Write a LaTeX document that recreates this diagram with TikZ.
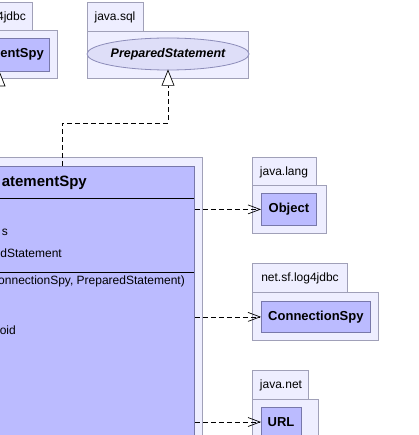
\documentclass[tikz,border=0pt]{standalone}
\usepackage{fontspec}
\setmainfont{Liberation Sans}
\usetikzlibrary{arrows.meta,shapes.geometric}

\definecolor{pkgfill}{RGB}{238,238,255}
\definecolor{pkgline}{RGB}{160,160,184}
\definecolor{clsfill}{RGB}{187,187,255}
\definecolor{clsline}{RGB}{120,120,170}
\definecolor{ifcfill}{RGB}{222,222,248}
\definecolor{ifcline}{RGB}{140,140,185}

\tikzset{
  pkgbox/.style={draw=pkgline, fill=pkgfill, line width=0.8pt},
  clsbox/.style={draw=clsline, fill=clsfill, line width=0.8pt},
  pkglabel/.style={font=\fontsize{12}{14}\selectfont, inner sep=0pt},
  clsname/.style={font=\fontsize{13}{15}\selectfont\bfseries, inner sep=0pt},
  member/.style={font=\fontsize{12}{14}\selectfont, inner sep=0pt, anchor=east},
  depend/.style={dash pattern=on 5pt off 3pt, line width=0.7pt,
    -{Straight Barb[length=12pt,width=9pt,line width=0.7pt]}},
  realize/.style={dash pattern=on 5pt off 3pt, line width=0.7pt},
  gentri/.style={draw, fill=white, line width=0.7pt}
}

\begin{document}
\begin{tikzpicture}[x=1pt,y=-1pt]
\useasboundingbox (0,0) rectangle (418,435);
\clip (0,0) rectangle (418,435);

% package net.sf.log4jdbc holding the parent class (upper left)
\draw[pkgbox] (-10,2) rectangle (32,30);
\draw[pkgbox] (-10,30) rectangle (57,78);
\node[pkglabel, anchor=east] (tlpkg) at (26,17) {4jdbc};
\draw[clsbox] (-10,38) rectangle (49,71);
\node[clsname, anchor=east] (parent) at (44,54) {entSpy};
\draw[gentri] (-1,71) -- (5,86) -- (-7,86) -- cycle;

% package java.sql with the interface
\draw[pkgbox] (87,2) rectangle (143,31);
\draw[pkgbox] (87,31) rectangle (248,78);
\node[pkglabel] (sqlpkg) at (115,17) {java.sql};
\node[ellipse, draw=ifcline, fill=ifcfill, line width=0.8pt,
      minimum width=146pt, minimum height=32pt, inner sep=0pt,
      font=\fontsize{12.5}{15}\selectfont\bfseries\itshape] (ifc) at (168,54)
      {PreparedStatement};

% the main class
\draw[pkgbox] (-10,157) rectangle (202,445);
\node[clsbox, rectangle, minimum width=204pt, minimum height=279pt,
      inner sep=0pt, anchor=north west] (main) at (-10,166) {};
\draw[line width=0.8pt] (-10,198) -- (194,198);
\draw[line width=0.8pt] (-10,272) -- (194,272);
\node[font=\fontsize{15}{18}\selectfont\bfseries, inner sep=0pt, anchor=east]
      (title) at (87,183) {atementSpy};
\node[member] (attr1) at (8,232) {s};
\node[member] (attr2) at (62,253) {dStatement};
\node[member] (ctor) at (185,281) {onnectionSpy, PreparedStatement)};
\node[member] (meth1) at (16,330) {oid};

% package java.lang
\draw[pkgbox] (252,157) rectangle (316,185);
\draw[pkgbox] (252,185) rectangle (326,233);
\node[pkglabel] (langpkg) at (284,172) {java.lang};
\node[clsbox, rectangle, minimum width=55pt, minimum height=32pt, inner sep=0pt,
      anchor=north west, clsname] (obj) at (261,193) {Object};

% package net.sf.log4jdbc
\draw[pkgbox] (252,263) rectangle (347,292);
\draw[pkgbox] (252,292) rectangle (378,340);
\node[pkglabel] (logpkg) at (300,278) {net.sf.log4jdbc};
\node[clsbox, rectangle, minimum width=109pt, minimum height=31pt, inner sep=0pt,
      anchor=north west, clsname] (conn) at (261,301) {ConnectionSpy};

% package java.net
\draw[pkgbox] (252,370) rectangle (308,399);
\draw[pkgbox] (252,399) rectangle (318,445);
\node[pkglabel] (netpkg) at (281,385) {java.net};
\node[clsbox, rectangle, minimum width=40pt, minimum height=38pt, inner sep=0pt,
      anchor=north west] (url) at (261,407) {};
\node[clsname] (urltext) at (281,422) {URL};

% realization of the interface
\coordinate (rtop) at (168,86);
\coordinate (rbend1) at (168,123);
\coordinate (rbend2) at (62,123);
\coordinate (rfoot) at (62,166);
\draw[realize] (rfoot) -- (rbend2) -- (rbend1) -- (rtop);
\draw[gentri] (ifc.south) -- ++(6,15) -- ++(-12,0) -- cycle;

% dependencies
\draw[depend] (obj.west -| main.east) -- (obj.west);
\draw[depend] (conn.west -| main.east) -- (conn.west);
\coordinate (urlin) at (261,422);
\draw[depend] (urlin -| main.east) -- (urlin);
\end{tikzpicture}
\end{document}
